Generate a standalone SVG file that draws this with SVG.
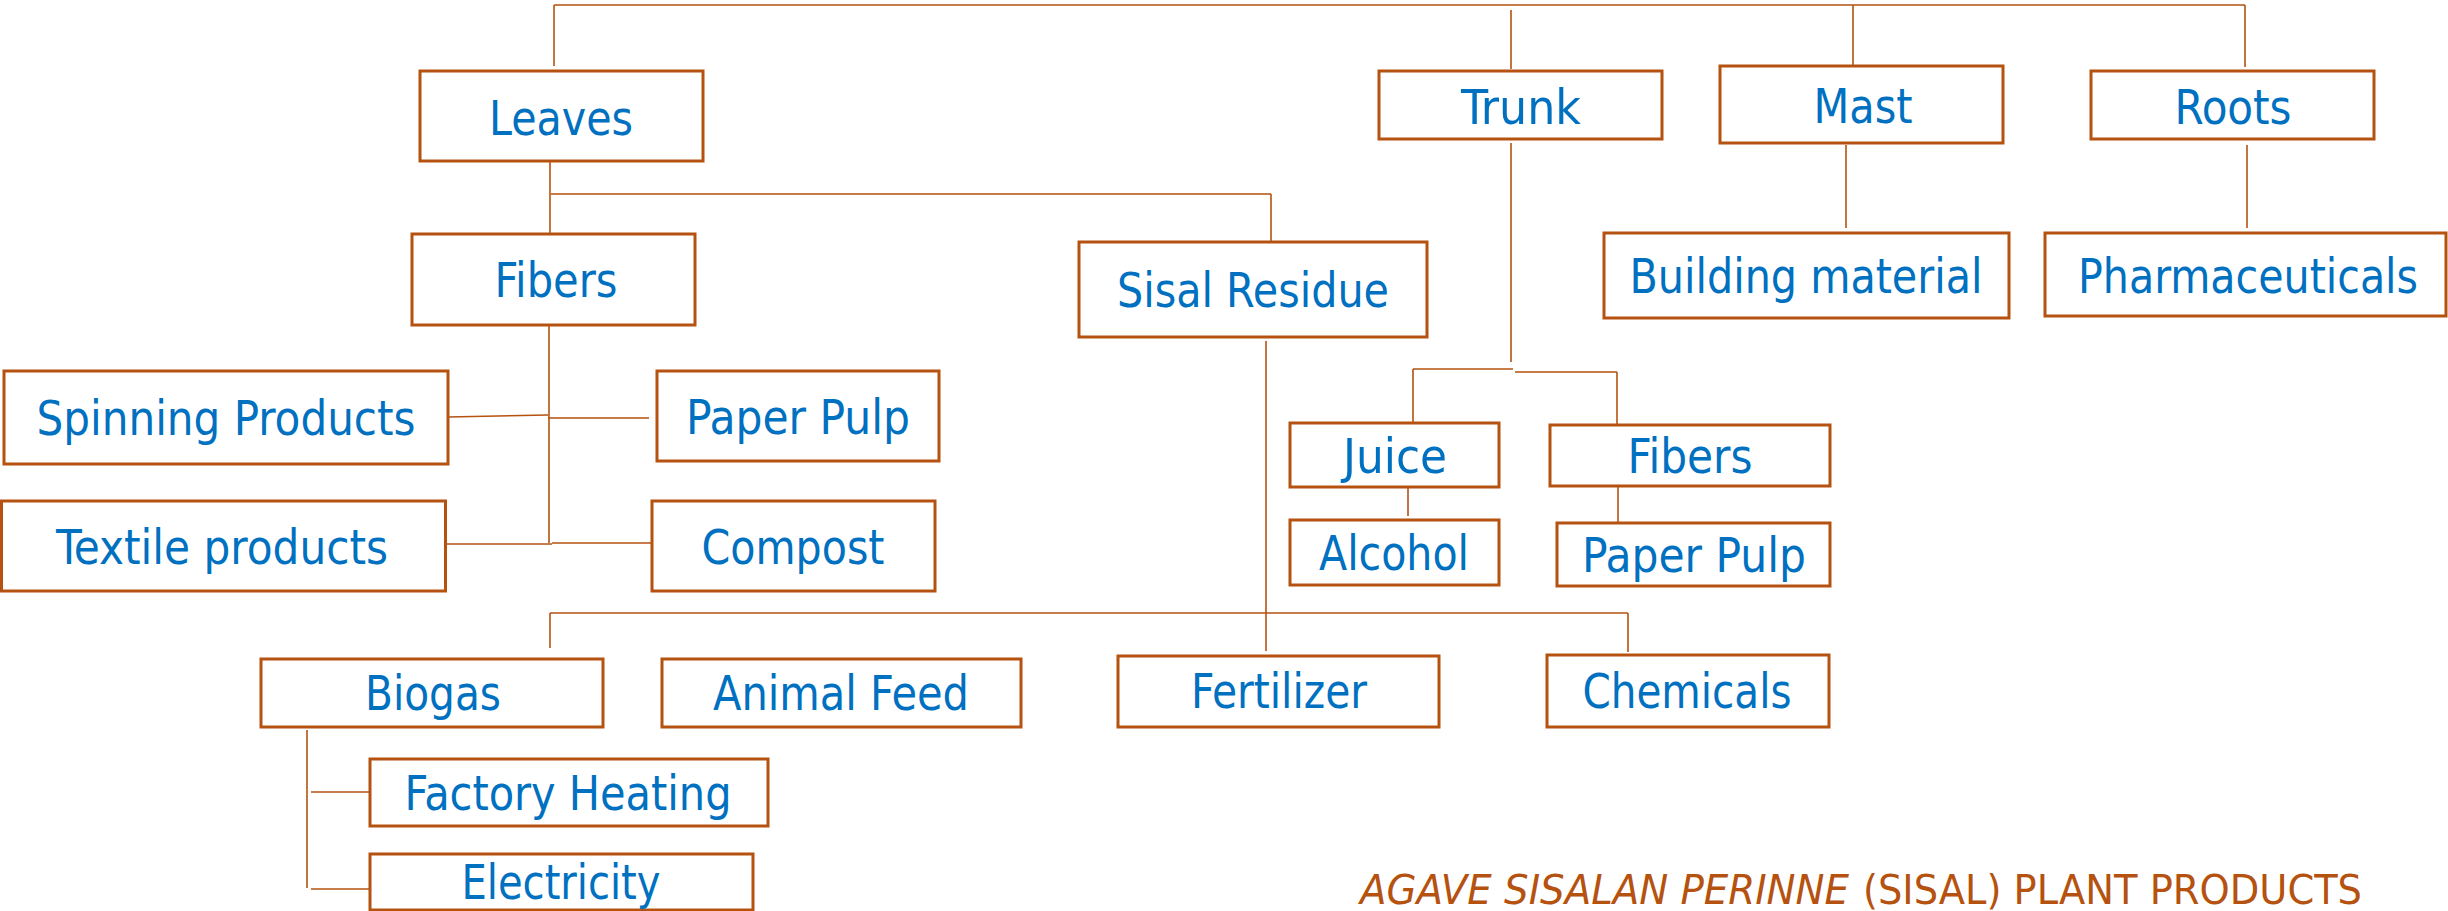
<svg xmlns="http://www.w3.org/2000/svg" width="2448" height="911" viewBox="0 0 2448 911">
<style>
.box{fill:#ffffff;stroke:#B5520F;stroke-width:3}
.lbl{font-family:"DejaVu Sans Condensed","DejaVu Sans",sans-serif;font-stretch:condensed;font-size:48px;fill:#0070C0;text-anchor:middle}
.con line{stroke:#B5520F;stroke-width:1.6;fill:none}
.title{font-family:"DejaVu Sans Condensed","DejaVu Sans",sans-serif;font-stretch:condensed;font-size:41px;fill:#B5520F}
</style>
<rect width="2448" height="911" fill="#ffffff"/>
<g id="connectors" class="con">
<line x1="554" y1="5" x2="2245" y2="5"/>
<line x1="554" y1="5" x2="554" y2="66"/>
<line x1="1511" y1="10" x2="1511" y2="69"/>
<line x1="1853" y1="5" x2="1853" y2="65"/>
<line x1="2245" y1="5" x2="2245" y2="67"/>
<line x1="550" y1="161" x2="550" y2="237"/>
<line x1="551" y1="194" x2="1271" y2="194"/>
<line x1="1271" y1="194" x2="1271" y2="241"/>
<line x1="549" y1="325" x2="549" y2="543"/>
<line x1="448" y1="417" x2="548" y2="415"/>
<line x1="548" y1="418" x2="649" y2="418"/>
<line x1="446" y1="544" x2="552" y2="544"/>
<line x1="552" y1="543" x2="652" y2="543"/>
<line x1="1266" y1="341" x2="1266" y2="651"/>
<line x1="550" y1="613" x2="1628" y2="613"/>
<line x1="550" y1="613" x2="550" y2="648"/>
<line x1="1628" y1="613" x2="1628" y2="652"/>
<line x1="307" y1="730" x2="307" y2="888"/>
<line x1="311" y1="792" x2="370" y2="792"/>
<line x1="311" y1="889" x2="370" y2="889"/>
<line x1="1511" y1="143" x2="1511" y2="362"/>
<line x1="1413" y1="369" x2="1513" y2="369"/>
<line x1="1515" y1="372" x2="1617" y2="372"/>
<line x1="1413" y1="369" x2="1413" y2="422"/>
<line x1="1617" y1="372" x2="1617" y2="424"/>
<line x1="1408" y1="487" x2="1408" y2="516"/>
<line x1="1618" y1="486" x2="1618" y2="522"/>
<line x1="1846" y1="145" x2="1846" y2="228"/>
<line x1="2247" y1="145" x2="2247" y2="228"/>
</g>
<g id="leaves"><rect class="box" x="420" y="71" width="283" height="90"/><text class="lbl" x="561" y="135" textLength="144" lengthAdjust="spacingAndGlyphs">Leaves</text></g>
<g id="trunk"><rect class="box" x="1379" y="71" width="283" height="68"/><text class="lbl" x="1521" y="124" textLength="120" lengthAdjust="spacingAndGlyphs">Trunk</text></g>
<g id="mast"><rect class="box" x="1720" y="66" width="283" height="77"/><text class="lbl" x="1863" y="123" textLength="99" lengthAdjust="spacingAndGlyphs">Mast</text></g>
<g id="roots"><rect class="box" x="2091" y="71" width="283" height="68"/><text class="lbl" x="2233" y="124" textLength="117" lengthAdjust="spacingAndGlyphs">Roots</text></g>
<g id="building-material"><rect class="box" x="1604" y="233" width="405" height="85"/><text class="lbl" x="1806" y="293" textLength="353" lengthAdjust="spacingAndGlyphs">Building material</text></g>
<g id="pharmaceuticals"><rect class="box" x="2045" y="233" width="401" height="83"/><text class="lbl" x="2248" y="293" textLength="340" lengthAdjust="spacingAndGlyphs">Pharmaceuticals</text></g>
<g id="fibers"><rect class="box" x="412" y="234" width="283" height="91"/><text class="lbl" x="556" y="297" textLength="123" lengthAdjust="spacingAndGlyphs">Fibers</text></g>
<g id="sisal-residue"><rect class="box" x="1079" y="242" width="348" height="95"/><text class="lbl" x="1253" y="307" textLength="272" lengthAdjust="spacingAndGlyphs">Sisal Residue</text></g>
<g id="spinning-products"><rect class="box" x="4" y="371" width="444" height="93"/><text class="lbl" x="226" y="435" textLength="379" lengthAdjust="spacingAndGlyphs">Spinning Products</text></g>
<g id="paper-pulp"><rect class="box" x="657" y="371" width="282" height="90"/><text class="lbl" x="798" y="434" textLength="224" lengthAdjust="spacingAndGlyphs">Paper Pulp</text></g>
<g id="textile-products"><rect class="box" x="1.5" y="501" width="444" height="90"/><text class="lbl" x="222" y="564" textLength="332" lengthAdjust="spacingAndGlyphs">Textile products</text></g>
<g id="compost"><rect class="box" x="652" y="501" width="283" height="90"/><text class="lbl" x="793" y="564" textLength="183" lengthAdjust="spacingAndGlyphs">Compost</text></g>
<g id="juice"><rect class="box" x="1290" y="423" width="209" height="64"/><text class="lbl" x="1395" y="473" textLength="104" lengthAdjust="spacingAndGlyphs">Juice</text></g>
<g id="fibers-2"><rect class="box" x="1550" y="425" width="280" height="61"/><text class="lbl" x="1690" y="473" textLength="125" lengthAdjust="spacingAndGlyphs">Fibers</text></g>
<g id="alcohol"><rect class="box" x="1290" y="520" width="209" height="65"/><text class="lbl" x="1394" y="570" textLength="150" lengthAdjust="spacingAndGlyphs">Alcohol</text></g>
<g id="paper-pulp-2"><rect class="box" x="1557" y="523" width="273" height="63"/><text class="lbl" x="1694" y="572" textLength="224" lengthAdjust="spacingAndGlyphs">Paper Pulp</text></g>
<g id="biogas"><rect class="box" x="261" y="659" width="342" height="68"/><text class="lbl" x="433" y="710" textLength="136" lengthAdjust="spacingAndGlyphs">Biogas</text></g>
<g id="animal-feed"><rect class="box" x="662" y="659" width="359" height="68"/><text class="lbl" x="841" y="710" textLength="256" lengthAdjust="spacingAndGlyphs">Animal Feed</text></g>
<g id="fertilizer"><rect class="box" x="1118" y="656" width="321" height="71"/><text class="lbl" x="1279" y="708" textLength="176" lengthAdjust="spacingAndGlyphs">Fertilizer</text></g>
<g id="chemicals"><rect class="box" x="1547" y="655" width="282" height="72"/><text class="lbl" x="1687" y="708" textLength="209" lengthAdjust="spacingAndGlyphs">Chemicals</text></g>
<g id="factory-heating"><rect class="box" x="370" y="759" width="398" height="67"/><text class="lbl" x="568" y="810" textLength="327" lengthAdjust="spacingAndGlyphs">Factory Heating</text></g>
<g id="electricity"><rect class="box" x="370" y="854" width="383" height="56"/><text class="lbl" x="561" y="899" textLength="199" lengthAdjust="spacingAndGlyphs">Electricity</text></g>
<g id="title">
<text class="title" x="1360" y="904" font-style="italic" textLength="489" lengthAdjust="spacingAndGlyphs">AGAVE SISALAN PERINNE</text>
<text class="title" x="1863" y="904" textLength="499" lengthAdjust="spacingAndGlyphs">(SISAL) PLANT PRODUCTS</text>
</g>
</svg>
